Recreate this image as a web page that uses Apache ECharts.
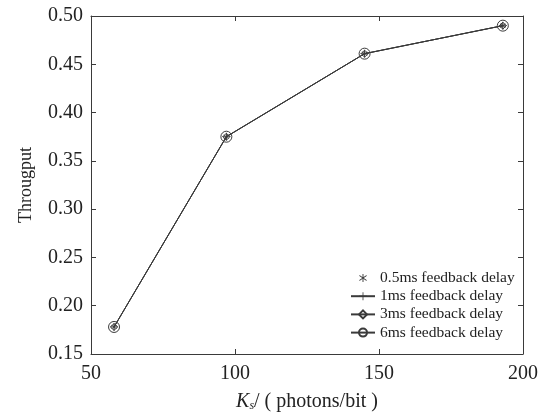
<!DOCTYPE html>
<html><head><meta charset="utf-8">
<script src="https://cdn.jsdelivr.net/npm/echarts@6/dist/echarts.min.js"></script>
<style>html,body{margin:0;padding:0;background:#fff}#c{width:548px;height:417px}</style>
</head><body><div id="c"></div>
<script>
const ks = [58, 97, 145, 193];
const delay05 = [0.178, 0.375, 0.461, 0.490];
const delay1 = [0.178, 0.375, 0.461, 0.490];
const delay3 = [0.178, 0.375, 0.461, 0.490];
const delay6 = [0.178, 0.375, 0.461, 0.490];
const seriesNames = ['0.5ms feedback delay', '1ms feedback delay', '3ms feedback delay', '6ms feedback delay'];
const xTicks = [50, 100, 150, 200];
const yTicks = [0.15, 0.20, 0.25, 0.30, 0.35, 0.40, 0.45, 0.50];

const FONT = '"Liberation Serif", "DejaVu Serif", serif';
const INK = '#3a3a3a';
const asterisk = 'path://M4.6 0 L5.4 0 L5.4 10 L4.6 10 Z M1.5 2.2 L2.2 1.5 L8.5 7.8 L7.8 8.5 Z M7.8 1.5 L8.5 2.2 L2.2 8.5 L1.5 7.8 Z';
const plus = 'path://M4.5 0 L5.5 0 L5.5 10 L4.5 10 Z M0 4.5 L10 4.5 L10 5.5 L0 5.5 Z';

function pairs(ys) { return ks.map((x, i) => [x, ys[i]]); }

const chart = echarts.init(document.getElementById('c'), null, {renderer: 'canvas'});
const axisLine = {show: true, lineStyle: {color: INK, width: 1}};
const tickIn = {show: true, inside: true, length: 5, lineStyle: {color: INK}};
const CLEAR = 'rgba(255,255,255,0)';
chart.setOption({
  animation: false,
  backgroundColor: '#fff',
  grid: {left: 91, right: 25, top: 16, bottom: 63},
  legend: {
    orient: 'vertical', left: 345, top: 265,
    itemWidth: 24, itemHeight: 10, itemGap: 2.2,
    textStyle: {fontFamily: FONT, fontSize: 15.5, color: '#222', lineHeight: 14},
    data: seriesNames
  },
  xAxis: [{
    type: 'value', min: 50, max: 200, interval: 50, position: 'bottom',
    axisLine, axisTick: tickIn, splitLine: {show: false},
    axisLabel: {fontFamily: FONT, fontSize: 20, color: '#222', margin: 10,
      formatter: v => xTicks.includes(v) ? String(v) : ''},
    name: '{k|K}{s|s}{n|/ ( photons/bit )}', nameLocation: 'middle', nameGap: 38,
    nameTextStyle: {rich: {
      k: {fontFamily: FONT, fontSize: 20, fontStyle: 'italic', color: '#222'},
      s: {fontFamily: FONT, fontSize: 12, fontStyle: 'italic', color: '#222', verticalAlign: 'bottom', padding: [8, 0, 0, 0]},
      n: {fontFamily: FONT, fontSize: 20, color: '#222'}
    }}
  }, {
    type: 'value', min: 50, max: 200, interval: 50, position: 'top',
    axisLine, axisTick: tickIn, axisLabel: {show: false}, splitLine: {show: false}
  }],
  yAxis: [{
    type: 'value', min: 0.15, max: 0.5, interval: 0.05, position: 'left',
    axisLine, axisTick: tickIn, splitLine: {show: false},
    axisLabel: {fontFamily: FONT, fontSize: 20, color: '#222', margin: 8,
      formatter: v => v.toFixed(2)},
    name: 'Througput', nameLocation: 'middle', nameGap: 56, nameRotate: 90,
    nameTextStyle: {fontFamily: FONT, fontSize: 18, color: '#222'}
  }, {
    type: 'value', min: 0.15, max: 0.5, interval: 0.05, position: 'right',
    axisLine, axisTick: tickIn, axisLabel: {show: false}, splitLine: {show: false}
  }],
  series: [
    {name: seriesNames[0], type: 'line', data: pairs(delay05), symbol: asterisk, symbolSize: 6,
      lineStyle: {color: INK, width: 1, opacity: 0}, itemStyle: {color: INK}},
    {name: seriesNames[1], type: 'line', data: pairs(delay1), symbol: plus, symbolSize: 8,
      lineStyle: {color: INK, width: 1}, itemStyle: {color: INK}},
    {name: seriesNames[2], type: 'line', data: pairs(delay3), symbol: 'diamond', symbolSize: 7,
      lineStyle: {color: INK, width: 1}, itemStyle: {color: CLEAR, borderColor: INK, borderWidth: 1}},
    {name: seriesNames[3], type: 'line', data: pairs(delay6), symbol: 'circle', symbolSize: 11,
      lineStyle: {color: INK, width: 1}, itemStyle: {color: CLEAR, borderColor: INK, borderWidth: 1}}
  ]
});
</script></body></html>
